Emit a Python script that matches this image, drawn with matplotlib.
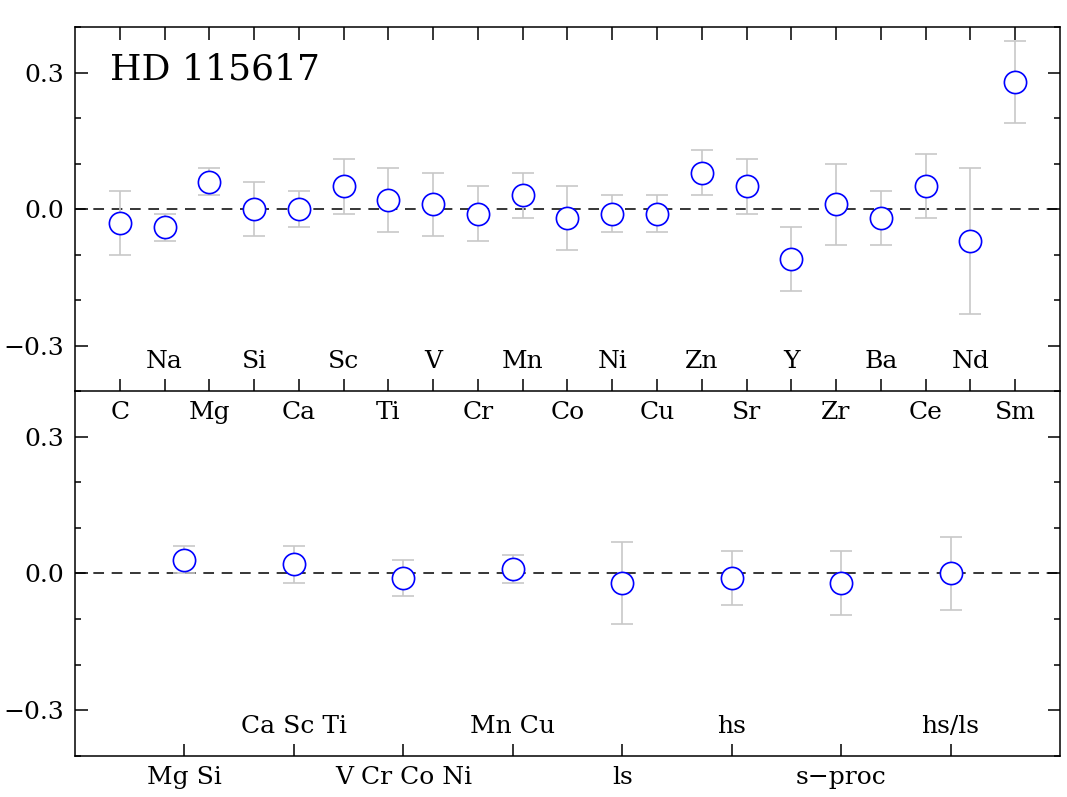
import numpy as np
import matplotlib
matplotlib.use('Agg')
import matplotlib.pyplot as plt
from matplotlib.ticker import MultipleLocator

# element abundances relative to reference
elements = ['C', 'Na', 'Mg', 'Si', 'Ca', 'Sc', 'Ti', 'V', 'Cr', 'Mn', 'Co',
            'Ni', 'Cu', 'Zn', 'Sr', 'Y', 'Zr', 'Ba', 'Ce', 'Nd', 'Sm']
elem_val = [-0.03, -0.04, 0.06, 0.00, 0.00, 0.05, 0.02, 0.01, -0.01, 0.03, -0.02,
            -0.01, -0.01, 0.08, 0.05, -0.11, 0.01, -0.02, 0.05, -0.07, 0.28]
elem_err = [0.07, 0.03, 0.03, 0.06, 0.04, 0.06, 0.07, 0.07, 0.06, 0.05, 0.07,
            0.04, 0.04, 0.05, 0.06, 0.07, 0.09, 0.06, 0.07, 0.16, 0.09]

# grouped ratios
groups = ['Mg Si', 'Ca Sc Ti', 'V Cr Co Ni', 'Mn Cu', 'ls', 'hs', 's\u2212proc', 'hs/ls']
group_val = [0.03, 0.02, -0.01, 0.01, -0.02, -0.01, -0.02, 0.00]
group_err = [0.03, 0.04, 0.04, 0.03, 0.09, 0.06, 0.07, 0.08]

plt.rcParams['font.family'] = ['DejaVu Serif']
plt.rcParams['axes.linewidth'] = 1.1

fig = plt.figure(figsize=(10.67, 7.97), dpi=100)
ax1 = fig.add_axes([0.0703, 0.5094, 0.9231, 0.4567])
ax2 = fig.add_axes([0.0703, 0.0515, 0.9231, 0.4579])
ax1.set_zorder(3)


def draw(ax, names, vals, errs):
    x = np.arange(len(names))
    ax.axhline(0, color='black', ls=(0, (7, 5)), lw=1.1, zorder=1)
    ax.errorbar(x, vals, yerr=errs, fmt='none', ecolor='#c8c8c8',
                elinewidth=1.2, capsize=8, capthick=1.2, zorder=2)
    ax.plot(x, vals, 'o', ms=16, mfc='white', mec='#0000ff', mew=1.2, zorder=3)
    ax.set_xlim(-1, len(names))
    ax.set_ylim(-0.4, 0.4)
    ax.yaxis.set_major_locator(MultipleLocator(0.3))
    ax.yaxis.set_minor_locator(MultipleLocator(0.1))
    ax.yaxis.set_major_formatter(plt.FuncFormatter(lambda v, p: f'{v:.1f}'.replace('-', '\u2212')))
    ax.set_xticks(x)
    ax.set_xticklabels([n if i % 2 == 0 else '' for i, n in enumerate(names)])
    for i, n in enumerate(names):
        if i % 2 == 1:
            ax.text(i, -0.335, n, ha='center', va='center', fontsize=18)
    ax.tick_params(axis='y', which='both', direction='in', left=True, right=True,
                   labelsize=18, pad=8)
    ax.tick_params(axis='y', which='major', length=9, width=1.1)
    ax.tick_params(axis='y', which='minor', length=4, width=1.1)
    ax.tick_params(axis='x', direction='in', length=9, width=1.1, labelsize=18, pad=7)


draw(ax1, elements, elem_val, elem_err)
ax1.tick_params(axis='x', top=True, bottom=True)
ax1.text(0.0355, 0.882, 'HD 115617', transform=ax1.transAxes, fontsize=26,
         ha='left', va='center')

draw(ax2, groups, group_val, group_err)
ax2.tick_params(axis='x', top=False, bottom=True)
ax2.spines['top'].set_visible(False)

fig.savefig('out.png', dpi=100)
